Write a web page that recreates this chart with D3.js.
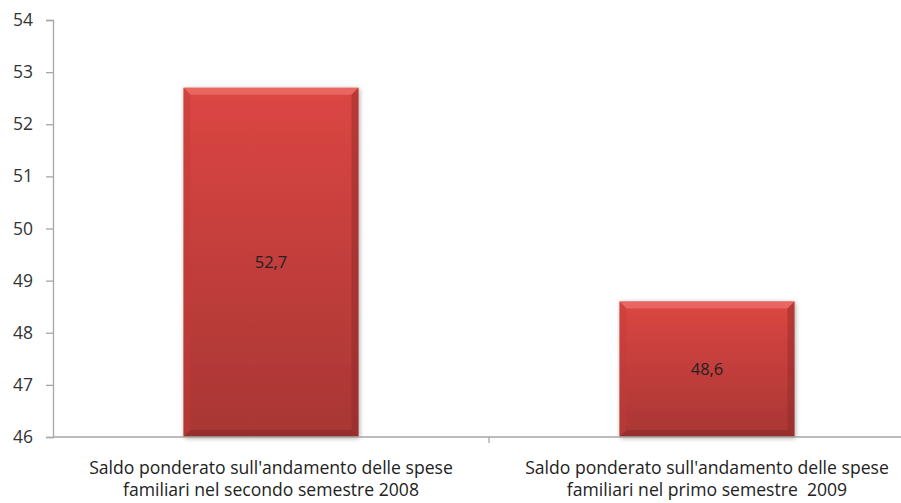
<!DOCTYPE html>
<html>
<head>
<meta charset="utf-8">
<script src="https://cdn.jsdelivr.net/npm/d3@7"></script>
<style>
  body { margin: 0; background: #fff; }
  svg text { font-family: "Open Sans", Lato, sans-serif; fill: #222; }
</style>
</head>
<body>
<svg id="chart" width="901" height="503"></svg>
<script>
// data
var categories = [
   ["Saldo ponderato sull'andamento delle spese", "familiari nel secondo semestre 2008"],
   ["Saldo ponderato sull'andamento delle spese", "familiari nel primo semestre  2009"]
];
var values = [52.7, 48.6];
var valueLabels = ["52,7", "48,6"];
var yTicks = [46, 47, 48, 49, 50, 51, 52, 53, 54];

var svg = d3.select("#chart");
var mLeft = 53, mRight = 925, mTop = 20, mBottom = 437;

var x = d3.scaleBand()
   .domain(d3.range(categories.length))
   .range([mLeft, mRight])
   .paddingInner(0)
   .paddingOuter(0);
var y = d3.scaleLinear().domain([46, 54]).range([mBottom, mTop]);

var defs = svg.append("defs");
var grad = defs.append("linearGradient")
   .attr("id", "barGrad").attr("x1", 0).attr("y1", 0).attr("x2", 0).attr("y2", 1);
grad.append("stop").attr("offset", "0%").attr("stop-color", "#dc4643");
grad.append("stop").attr("offset", "100%").attr("stop-color", "#a83634");

var shadow = defs.append("filter").attr("id", "shadow")
   .attr("x", "-10%").attr("y", "-10%").attr("width", "130%").attr("height", "130%");
shadow.append("feGaussianBlur").attr("in", "SourceAlpha").attr("stdDeviation", 2.5);
shadow.append("feOffset").attr("dx", 1).attr("dy", 1).attr("result", "b");
shadow.append("feComponentTransfer").append("feFuncA").attr("type", "linear").attr("slope", 0.35);
var merge = shadow.append("feMerge");
merge.append("feMergeNode");
merge.append("feMergeNode").attr("in", "SourceGraphic");

// axes
var yAxis = svg.append("g").attr("transform", "translate(" + mLeft + ",0)")
   .call(d3.axisLeft(y).tickValues(yTicks).tickSize(7).tickPadding(13).tickFormat(d3.format("d")));
yAxis.select(".domain").attr("stroke", "#a6a6a6").attr("stroke-width", 1.3);
yAxis.selectAll(".tick line").attr("stroke", "#a6a6a6").attr("stroke-width", 1.3);
yAxis.selectAll(".tick text").attr("font-size", 17.5).style("fill", "#333")
   .style("font-family", "\"Open Sans\", sans-serif");

var barW = 175;
var bars = svg.append("g");
values.forEach(function(v, i) {
   var cx = x(i) + x.bandwidth() / 2;
   var x0 = cx - barW / 2, x1 = cx + barW / 2;
   var y0 = y(v), y1 = y(46);
   var bv = 7;
   var g = bars.append("g");
   g.append("rect")
      .attr("x", x0).attr("y", y0).attr("width", barW).attr("height", y1 - y0)
      .attr("fill", "url(#barGrad)").attr("filter", "url(#shadow)");
   // bevel edges
   g.append("polygon")
      .attr("points", [[x0, y0], [x1, y0], [x1 - bv, y0 + bv], [x0 + bv, y0 + bv]].join(" "))
      .attr("fill", "#f07470").attr("opacity", 0.7);
   g.append("polygon")
      .attr("points", [[x0, y0], [x0 + bv, y0 + bv], [x0 + bv, y1 - bv], [x0, y1]].join(" "))
      .attr("fill", "#c13b38").attr("opacity", 0.4);
   g.append("polygon")
      .attr("points", [[x1, y0], [x1, y1], [x1 - bv, y1 - bv], [x1 - bv, y0 + bv]].join(" "))
      .attr("fill", "#8a2a28").attr("opacity", 0.45);
   g.append("polygon")
      .attr("points", [[x0, y1], [x1, y1], [x1 - bv, y1 - bv], [x0 + bv, y1 - bv]].join(" "))
      .attr("fill", "#7e2524").attr("opacity", 0.4);
   g.append("text")
      .attr("x", cx).attr("y", (y0 + y1) / 2 + 6)
      .attr("text-anchor", "middle").attr("font-size", 16.5)
      .text(valueLabels[i]);
});

// x axis
var xAxis = svg.append("g");
xAxis.append("line").attr("x1", mLeft).attr("x2", 901).attr("y1", mBottom).attr("y2", mBottom)
   .attr("stroke", "#a6a6a6").attr("stroke-width", 1.3);
xAxis.selectAll(".sep").data(d3.range(1, categories.length)).enter().append("line")
   .attr("x1", function(d) { return x(d); }).attr("x2", function(d) { return x(d); })
   .attr("y1", mBottom).attr("y2", mBottom + 6)
   .attr("stroke", "#a6a6a6").attr("stroke-width", 1.3);
categories.forEach(function(lines, i) {
   var cx = x(i) + x.bandwidth() / 2;
   lines.forEach(function(l, j) {
      xAxis.append("text").attr("text-anchor", "middle").attr("font-size", 17.6)
         .style("white-space", "pre")
         .attr("x", cx).attr("y", 474 + j * 22).text(l);
   });
});
</script>
</body>
</html>
